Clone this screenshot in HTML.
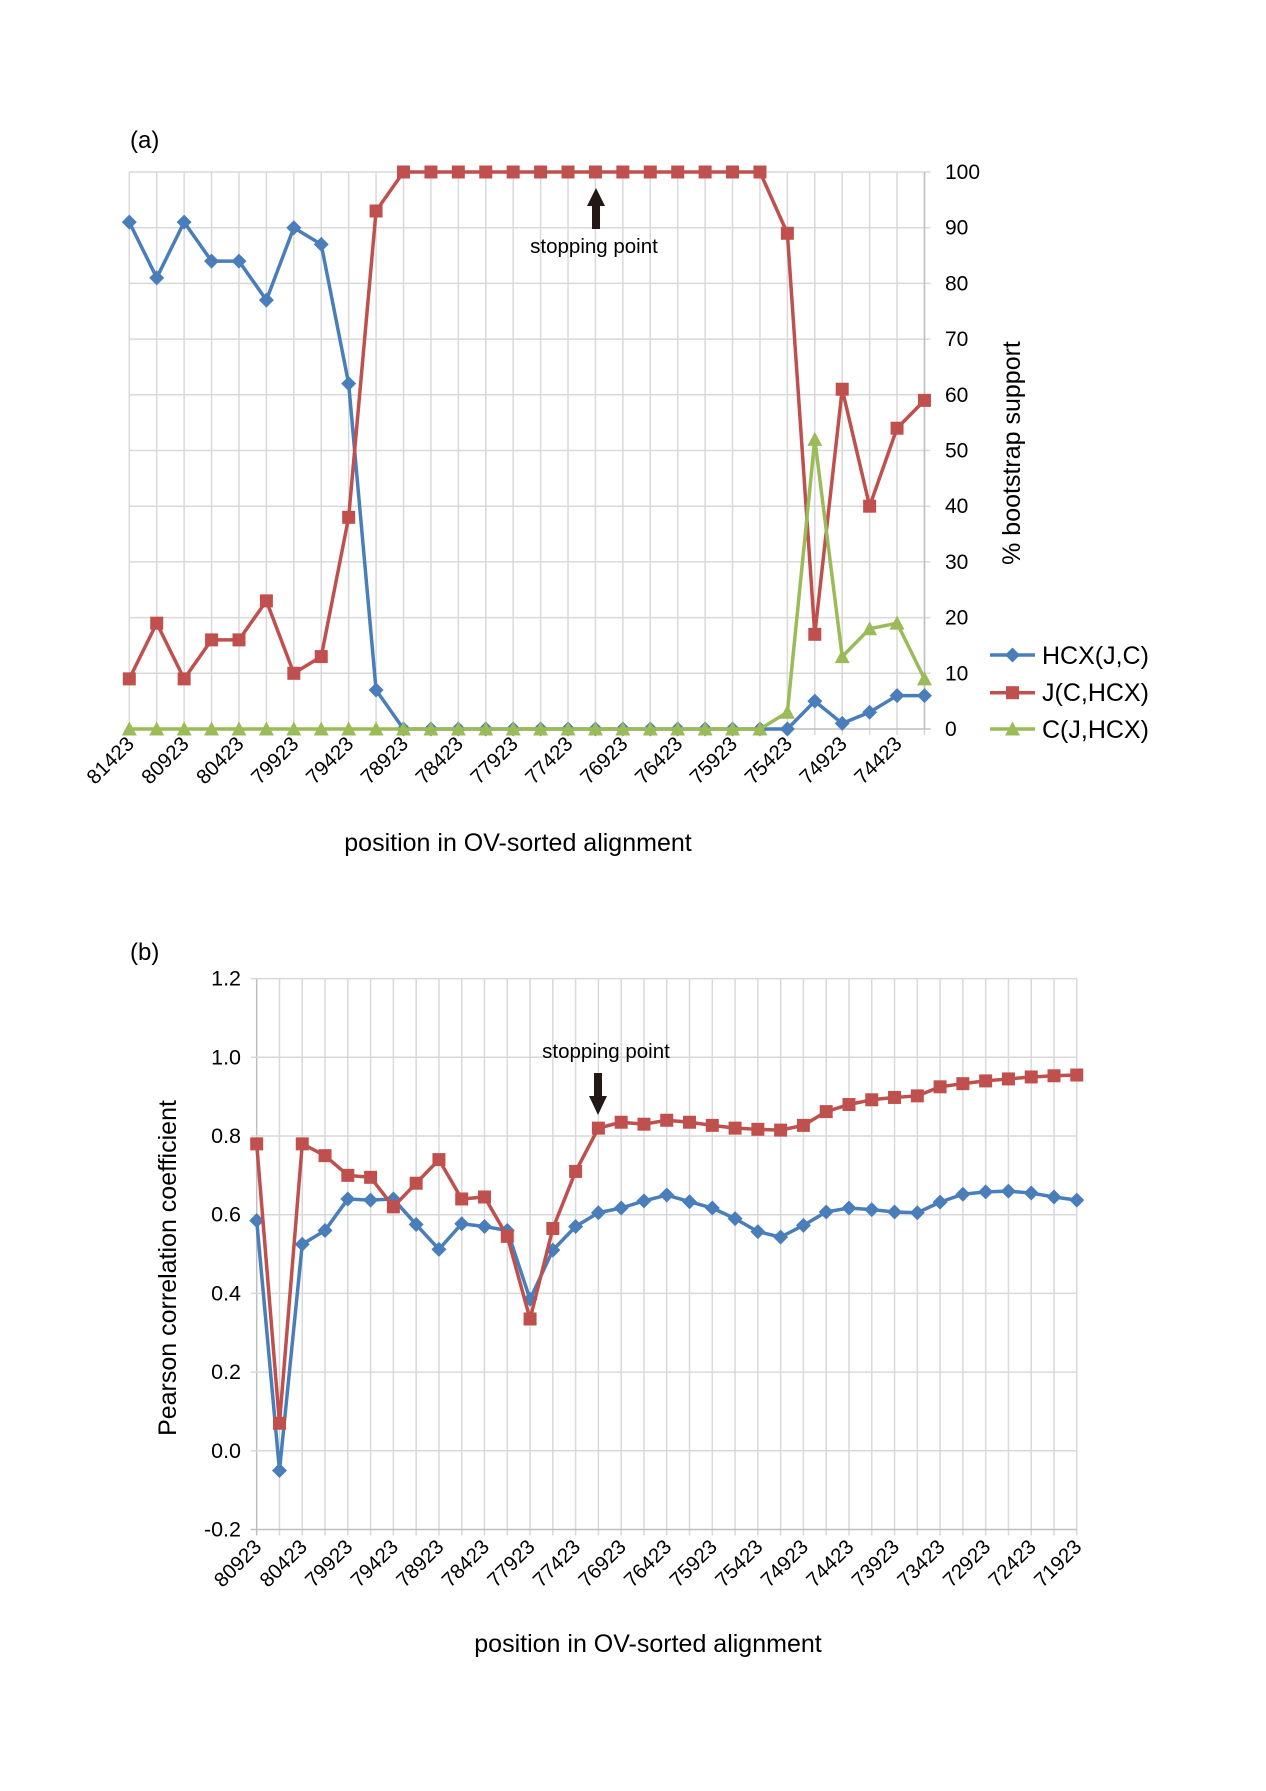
<!DOCTYPE html>
<html><head><meta charset="utf-8"><style>
html,body{margin:0;padding:0;background:#fff}
svg{display:block}
text{font-family:"Liberation Sans",Arial,sans-serif;fill:#000}
</style></head><body>
<svg id="s" width="1266" height="1791" viewBox="0 0 1266 1791" xmlns="http://www.w3.org/2000/svg">
<g id="grid"></g>
<g id="series"></g>
<!-- chart a texts -->
<text x="130" y="148" font-size="24">(a)</text>
<g font-size="21" text-anchor="start">
<text x="945" y="736">0</text><text x="945" y="680.3">10</text><text x="945" y="624.6">20</text><text x="945" y="568.9">30</text><text x="945" y="513.2">40</text><text x="945" y="457.5">50</text><text x="945" y="401.8">60</text><text x="945" y="346.1">70</text><text x="945" y="290.4">80</text><text x="945" y="234.7">90</text><text x="945" y="179">100</text>
</g>
<g font-size="20.5" text-anchor="end">
<text transform="translate(135.3,745) rotate(-45)">81423</text>
<text transform="translate(190.1,745) rotate(-45)">80923</text>
<text transform="translate(245,745) rotate(-45)">80423</text>
<text transform="translate(299.8,745) rotate(-45)">79923</text>
<text transform="translate(354.7,745) rotate(-45)">79423</text>
<text transform="translate(409.5,745) rotate(-45)">78923</text>
<text transform="translate(464.3,745) rotate(-45)">78423</text>
<text transform="translate(519.2,745) rotate(-45)">77923</text>
<text transform="translate(574,745) rotate(-45)">77423</text>
<text transform="translate(628.9,745) rotate(-45)">76923</text>
<text transform="translate(683.7,745) rotate(-45)">76423</text>
<text transform="translate(738.5,745) rotate(-45)">75923</text>
<text transform="translate(793.4,745) rotate(-45)">75423</text>
<text transform="translate(848.2,745) rotate(-45)">74923</text>
<text transform="translate(903.1,745) rotate(-45)">74423</text>
</g>
<text x="518" y="851" font-size="25" text-anchor="middle">position in OV-sorted alignment</text>
<text transform="translate(1020,453) rotate(-90)" font-size="25" text-anchor="middle">% bootstrap support</text>
<text x="594" y="253" font-size="20.5" text-anchor="middle">stopping point</text>
<polygon points="592,229 600,229 600,206 605,206 596,188 587,206 592,206" fill="#231815"/>
<!-- legend -->
<g font-size="25">
<text x="1042" y="664">HCX(J,C)</text>
<text x="1042" y="701">J(C,HCX)</text>
<text x="1042" y="738">C(J,HCX)</text>
</g>
<!-- chart b texts -->
<text x="130" y="960" font-size="24">(b)</text>
<g font-size="21.5" text-anchor="end">
<text x="241" y="985.7">1.2</text><text x="241" y="1064.3">1.0</text><text x="241" y="1143">0.8</text><text x="241" y="1221.7">0.6</text><text x="241" y="1300.4">0.4</text><text x="241" y="1379.1">0.2</text><text x="241" y="1457.8">0.0</text><text x="241" y="1536.5">-0.2</text>
</g>
<g font-size="20.5" text-anchor="end">
<text transform="translate(262.7,1548) rotate(-45)">80923</text>
<text transform="translate(308.3,1548) rotate(-45)">80423</text>
<text transform="translate(353.8,1548) rotate(-45)">79923</text>
<text transform="translate(399.4,1548) rotate(-45)">79423</text>
<text transform="translate(444.9,1548) rotate(-45)">78923</text>
<text transform="translate(490.5,1548) rotate(-45)">78423</text>
<text transform="translate(536.1,1548) rotate(-45)">77923</text>
<text transform="translate(581.6,1548) rotate(-45)">77423</text>
<text transform="translate(627.2,1548) rotate(-45)">76923</text>
<text transform="translate(672.7,1548) rotate(-45)">76423</text>
<text transform="translate(718.3,1548) rotate(-45)">75923</text>
<text transform="translate(763.9,1548) rotate(-45)">75423</text>
<text transform="translate(809.4,1548) rotate(-45)">74923</text>
<text transform="translate(855,1548) rotate(-45)">74423</text>
<text transform="translate(900.5,1548) rotate(-45)">73923</text>
<text transform="translate(946.1,1548) rotate(-45)">73423</text>
<text transform="translate(991.7,1548) rotate(-45)">72923</text>
<text transform="translate(1037.2,1548) rotate(-45)">72423</text>
<text transform="translate(1082.8,1548) rotate(-45)">71923</text>
</g>
<text x="648" y="1652" font-size="25" text-anchor="middle">position in OV-sorted alignment</text>
<text transform="translate(176,1268) rotate(-90)" font-size="25" text-anchor="middle">Pearson correlation coefficient</text>
<text x="606" y="1058" font-size="20.5" text-anchor="middle">stopping point</text>
<polygon points="594,1073 602,1073 602,1096 607,1096 598,1115 589,1096 594,1096" fill="#231815"/>
</svg>
<script>
var NS="http://www.w3.org/2000/svg";
function el(p,t,a){var e=document.createElementNS(NS,t);for(var k in a)e.setAttribute(k,a[k]);p.appendChild(e);return e;}
var G=document.getElementById('grid'),S=document.getElementById('series');
var BL="#4A7EBB",RD="#C0504D",GR="#9BBB59",GC="#d9d9d9",AX="#bfbfbf";
function marker(g,type,x,y,c){
 if(type=='d')el(g,'polygon',{points:(x)+','+(y-7.5)+' '+(x+7.5)+','+y+' '+x+','+(y+7.5)+' '+(x-7.5)+','+y,fill:c});
 else if(type=='s')el(g,'rect',{x:x-6.5,y:y-6.5,width:13,height:13,fill:c});
 else el(g,'polygon',{points:x+','+(y-7.5)+' '+(x+7.5)+','+(y+6.5)+' '+(x-7.5)+','+(y+6.5),fill:c});
}
function series(data,fx,fy,c,t){
 var pts=data.map(function(v,i){return fx(i)+','+fy(v)}).join(' ');
 el(S,'polyline',{points:pts,fill:'none',stroke:c,'stroke-width':3.5,'stroke-linejoin':'round'});
 data.forEach(function(v,i){marker(S,t,fx(i),fy(v),c)});
}
// chart a
var xa=function(i){return 129.3+27.42*i},ya=function(v){return 729-5.57*v};
for(var i=0;i<30;i++){el(G,'line',{x1:xa(i),x2:xa(i),y1:ya(100),y2:ya(0)+6,stroke:GC,'stroke-width':1.5});}
for(var v=0;v<=100;v+=10){el(G,'line',{x1:xa(0),x2:xa(29)+6,y1:ya(v),y2:ya(v),stroke:v==0?AX:GC,'stroke-width':1.5});}
el(G,'line',{x1:xa(29),x2:xa(29),y1:ya(100),y2:ya(0),stroke:AX,'stroke-width':1.5});
var aR=[9,19,9,16,16,23,10,13,38,93,100,100,100,100,100,100,100,100,100,100,100,100,100,100,89,17,61,40,54,59];
var aB=[91,81,91,84,84,77,90,87,62,7,0,0,0,0,0,0,0,0,0,0,0,0,0,0,0,5,1,3,6,6];
var aG=[0,0,0,0,0,0,0,0,0,0,0,0,0,0,0,0,0,0,0,0,0,0,0,0,3,52,13,18,19,9];
series(aB,xa,ya,BL,'d');series(aR,xa,ya,RD,'s');series(aG,xa,ya,GR,'t');
// legend
[[655,BL,'d'],[692.7,RD,'s'],[729,GR,'t']].forEach(function(r){
 el(S,'line',{x1:990,x2:1035,y1:r[0],y2:r[0],stroke:r[1],'stroke-width':3.5});marker(S,r[2],1012.5,r[0],r[1]);});
// chart b
var xb=function(i){return 256.7+22.78*i},yb=function(v){return 1450.8-393.5*v};
for(var i=0;i<37;i++){el(G,'line',{x1:xb(i),x2:xb(i),y1:yb(1.2),y2:yb(-0.2)+6,stroke:i==0?AX:GC,'stroke-width':1.5});}
for(var k=-1;k<=6;k++){var v=k*0.2;el(G,'line',{x1:xb(0)-6,x2:xb(36),y1:yb(v),y2:yb(v),stroke:k==-1?AX:GC,'stroke-width':1.5});}
var bR=[0.78,0.07,0.78,0.75,0.70,0.695,0.62,0.68,0.74,0.64,0.645,0.545,0.335,0.565,0.71,0.82,0.835,0.83,0.84,0.835,0.827,0.82,0.817,0.815,0.827,0.862,0.88,0.892,0.898,0.902,0.925,0.933,0.94,0.945,0.95,0.953,0.955];
var bB=[0.585,-0.05,0.525,0.56,0.64,0.637,0.64,0.575,0.512,0.577,0.57,0.56,0.385,0.51,0.57,0.605,0.617,0.635,0.65,0.633,0.617,0.59,0.557,0.543,0.573,0.607,0.617,0.613,0.607,0.605,0.632,0.652,0.658,0.66,0.655,0.645,0.637];
series(bB,xb,yb,BL,'d');series(bR,xb,yb,RD,'s');
</script>
</body></html>
